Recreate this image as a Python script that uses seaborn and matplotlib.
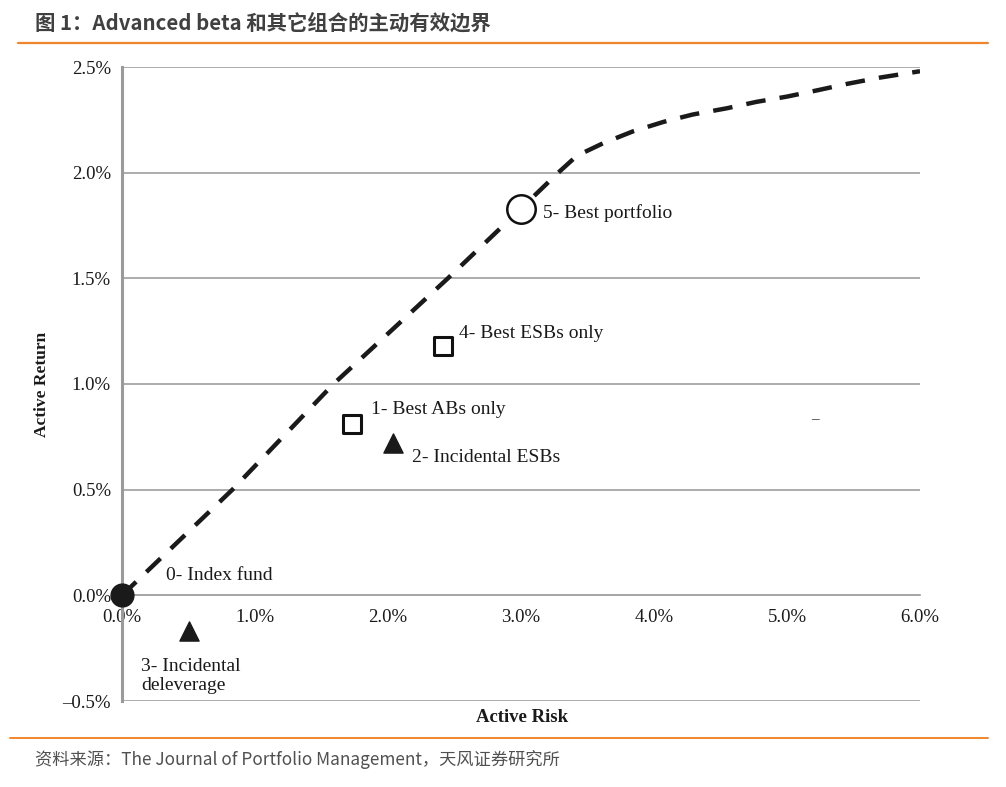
import matplotlib
matplotlib.use("Agg")
import matplotlib.pyplot as plt
import seaborn as sns
import pandas as pd
from matplotlib.lines import Line2D

# ---------------- data ----------------
frontier_risk = [0.0, 0.83, 1.59, 2.45, 3.0, 3.28, 3.42, 3.62, 3.84, 4.07, 4.29,
                 4.55, 4.77, 5.0, 5.23, 5.45, 5.7, 6.0]
frontier_ret = [0.0, 0.5, 1.0, 1.5, 1.83, 2.0, 2.08, 2.14, 2.195, 2.24, 2.275,
                2.305, 2.335, 2.36, 2.39, 2.42, 2.45, 2.48]

port_labels = ["0- Index fund", "1- Best ABs only", "2- Incidental ESBs",
               "3- Incidental\ndeleverage", "4- Best ESBs only", "5- Best portfolio"]
port_risk = [0.0, 1.73, 2.04, 0.50, 2.41, 3.0]
port_ret = [0.0, 0.81, 0.72, -0.17, 1.18, 1.83]

x_ticks = [0, 1, 2, 3, 4, 5, 6]
x_ticklabels = ["0.0%", "1.0%", "2.0%", "3.0%", "4.0%", "5.0%", "6.0%"]
y_ticks = [-0.5, 0.0, 0.5, 1.0, 1.5, 2.0, 2.5]
y_ticklabels = ["\u20130.5%", "0.0%", "0.5%", "1.0%", "1.5%", "2.0%", "2.5%"]

title_text = "图 1：Advanced beta 和其它组合的主动有效边界"
source_text = "资料来源：The Journal of Portfolio Management，天风证券研究所"
x_label = "Active Risk"
y_label = "Active Return"

# ---------------- style ----------------
sns.set_style("white")
plt.rcParams["font.family"] = ["Liberation Serif", "DejaVu Serif"]
cjk = ["Noto Sans CJK SC", "DejaVu Sans"]

fig = plt.figure(figsize=(10.06, 7.87), dpi=100)
L, R, B, T = 122 / 1006, 920 / 1006, 1 - 701 / 787, 1 - 67 / 787
ax = fig.add_axes([L, B, R - L, T - B])

grid_c = "#A6A6A6"
ax.set_xlim(0, 6)
ax.set_ylim(-0.5, 2.5)
for yv in y_ticks:
    ax.axhline(yv, color=grid_c, lw=1.3, zorder=1)

# frontier
df_f = pd.DataFrame({"risk": frontier_risk, "ret": frontier_ret})
sns.lineplot(data=df_f, x="risk", y="ret", ax=ax, color="#1a1a1a", lw=3.2,
             sort=False, zorder=3)
ln = ax.lines[-1]
ln.set_dashes((4.4, 3.2))
ln.set_dash_capstyle("butt")

# portfolios
df_p = pd.DataFrame({"risk": port_risk, "ret": port_ret, "label": port_labels})
styles = [
    dict(marker="o", s=270, color="#1a1a1a", edgecolor="#1a1a1a", linewidth=1),
    dict(marker="s", s=150, color="white", edgecolor="#111111", linewidth=2.2),
    dict(marker="^", s=190, color="#1a1a1a", edgecolor="#1a1a1a", linewidth=1),
    dict(marker="^", s=190, color="#1a1a1a", edgecolor="#1a1a1a", linewidth=1),
    dict(marker="s", s=150, color="white", edgecolor="#111111", linewidth=2.2),
    dict(marker="o", s=420, color="white", edgecolor="#111111", linewidth=1.8),
]
for i, st in enumerate(styles):
    sns.scatterplot(data=df_p.iloc[[i]], x="risk", y="ret", ax=ax, zorder=5,
                    clip_on=False, legend=False, **st)

# annotations (data coords)
ann_pos = [(0.331, 0.095), (1.872, 0.880), (2.18, 0.653), (0.143, -0.383),
           (2.534, 1.240), (3.165, 1.807)]
for lab, (tx, ty) in zip(port_labels, ann_pos):
    ax.text(tx, ty, lab, fontsize=14, va="center", ha="left", color="#1a1a1a",
            linespacing=1.12, zorder=6)
ax.text(5.21, 0.83, "\u2013", fontsize=11, va="center", ha="center", color="#333333")

# axes styling
for s in ["top", "right"]:
    ax.spines[s].set_visible(False)
ax.spines["left"].set_color("#9A9A9A")
ax.spines["left"].set_linewidth(2.2)
ax.spines["bottom"].set_position(("data", 0))
ax.spines["bottom"].set_color(grid_c)
ax.spines["bottom"].set_linewidth(1.3)

ax.set_xticks(x_ticks)
ax.set_xticklabels(x_ticklabels, fontsize=13.5, color="#1a1a1a")
ax.set_yticks(y_ticks)
ax.set_yticklabels(y_ticklabels, fontsize=13.5, color="#1a1a1a")
ax.tick_params(axis="y", direction="out", length=5, width=1.2, color="#9A9A9A", pad=3)
ax.tick_params(axis="x", direction="in", length=4, width=1.2, color="#9A9A9A", pad=10)
ax.set_xlabel("")
ax.set_ylabel("")

fig.text(522 / 1006, 1 - 718 / 787, x_label, fontsize=13.5, fontweight="bold",
         ha="center", va="center", color="#1a1a1a")
fig.text(42 / 1006, 1 - 384 / 787, y_label, fontsize=12.5, fontweight="bold",
         rotation=90, ha="center", va="center", color="#1a1a1a")

# header / footer
fig.text(35 / 1006, 1 - 23 / 787, title_text, family=cjk, fontsize=14.7,
         fontweight="bold", color="#404040", ha="left", va="center")
fig.add_artist(Line2D([18 / 1006, 988 / 1006], [1 - 43 / 787, 1 - 43 / 787],
                      color="#F0862A", lw=1.6, transform=fig.transFigure))
fig.add_artist(Line2D([10 / 1006, 988 / 1006], [1 - 738 / 787, 1 - 738 / 787],
                      color="#F0862A", lw=1.4, transform=fig.transFigure))
fig.text(35 / 1006, 1 - 760 / 787, source_text, family=cjk, fontsize=12.4,
         color="#505050", ha="left", va="center")

fig.savefig("out.png", dpi=100)
